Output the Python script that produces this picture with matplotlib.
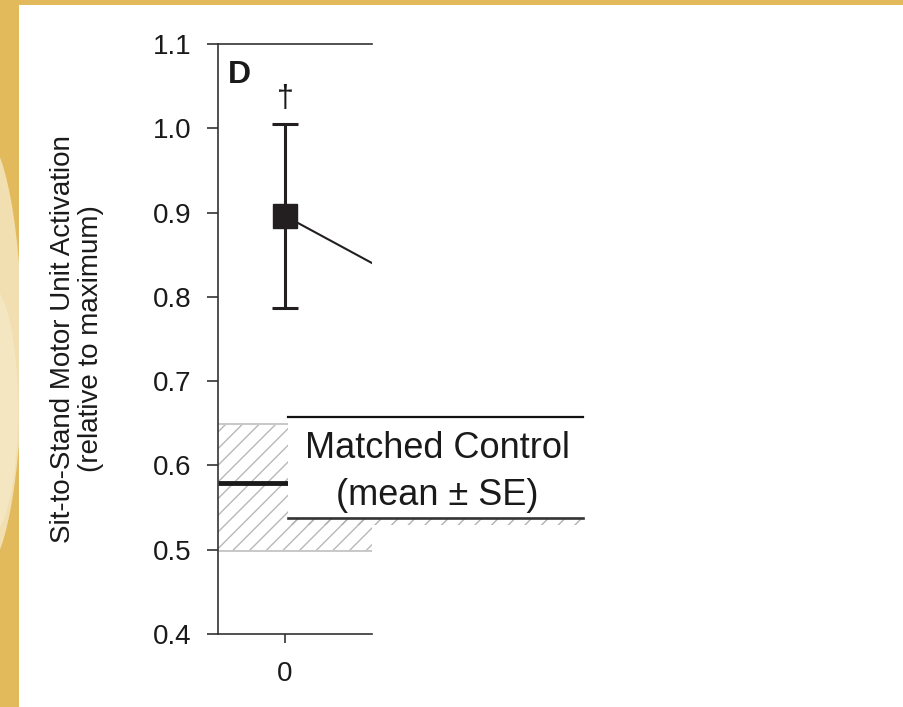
import matplotlib
matplotlib.use("Agg")
import matplotlib.pyplot as plt
from matplotlib.patches import Rectangle, Ellipse
from matplotlib.transforms import blended_transform_factory

plt.rcParams['font.family'] = ['Liberation Sans', 'DejaVu Sans']
plt.rcParams['hatch.linewidth'] = 1.0

# ---- data ----
x_vals = [0, 1]
act_mean = [0.896, 0.810]
act_se = [0.109, 0.0]
control_mean = 0.579
control_lo = 0.499
control_hi = 0.649
y_ticks = [0.4, 0.5, 0.6, 0.7, 0.8, 0.9, 1.0, 1.1]
y_tick_labels = ['0.4', '0.5', '0.6', '0.7', '0.8', '0.9', '1.0', '1.1']
x_ticks = [0]
x_tick_labels = ['0']
panel_label = 'D'
sig_mark = '\u2020'
ylabel_text = 'Sit-to-Stand Motor Unit Activation\n(relative to maximum)'
legend_lines = ['Matched Control', '(mean \u00b1 SE)']

W, H = 904, 707
fig = plt.figure(figsize=(W / 100, H / 100), dpi=100)
fig.patch.set_facecolor('#E2BA5C')

# background decoration (gold frame with lighter swirl)
fig.patches.append(Ellipse((-0.02, 0.50), 0.09, 0.62, transform=fig.transFigure,
                           facecolor='#F1DFB2', edgecolor='none', zorder=-3))
fig.patches.append(Ellipse((-0.01, 0.42), 0.06, 0.35, transform=fig.transFigure,
                           facecolor='#F5E6C2', edgecolor='none', zorder=-2))
fig.patches.append(Rectangle((19 / W, 0), 1, 1 - 5 / H, transform=fig.transFigure,
                             facecolor='white', edgecolor='none', zorder=-1))

ax = fig.add_axes([218 / W, 1 - 634 / H, 154 / W, 590 / H])
ax.set_facecolor('none')
ax.set_xlim(-0.5, 0.65)
ax.set_ylim(0.4, 1.1)

spine_col = '#333333'
for s in ['left', 'top', 'bottom']:
    ax.spines[s].set_color(spine_col)
    ax.spines[s].set_linewidth(1.2)
ax.spines['right'].set_visible(False)

ax.set_yticks(y_ticks)
ax.set_yticklabels(y_tick_labels)
ax.set_xticks(x_ticks)
ax.set_xticklabels(x_tick_labels)
ax.tick_params(axis='y', direction='out', length=8, width=1.2, color=spine_col,
               labelsize=20, pad=11, labelcolor='#1a1a1a')
ax.tick_params(axis='x', direction='out', length=6.5, width=1.2, color=spine_col,
               labelsize=20, pad=13, labelcolor='#1a1a1a')

# control band (hatched)
ax.fill_between([-0.5, 0.65], [control_lo, control_lo], [control_hi, control_hi],
                facecolor='none', edgecolor='#b8b8b8', hatch='//', linewidth=0, zorder=1)
ax.plot([-0.5, 0.65], [control_lo, control_lo], color='#c8c8c8', lw=1.4, zorder=1.5)
ax.plot([-0.5, 0.65], [control_hi, control_hi], color='#c8c8c8', lw=1.4, zorder=1.5)
ax.plot([-0.5, 0.65], [control_mean, control_mean], color='#1a1a1a', lw=3.5,
        solid_capstyle='butt', zorder=2)

# data
ax.plot(x_vals, act_mean, color='#231f20', lw=1.5, zorder=3)
ax.errorbar(x_vals[:1], act_mean[:1], yerr=act_se[:1], fmt='s', color='#231f20',
            ms=17, elinewidth=2.2, capsize=9.5, capthick=2.2, zorder=4)

# annotations
bt = blended_transform_factory(ax.transAxes, ax.transData)
ax.text(0.065, 1.0537, panel_label, transform=bt, fontsize=23, fontweight='bold',
        ha='left', va='baseline', color='#1a1a1a')
ax.text(0, act_mean[0] + act_se[0] + 0.030, sig_mark, fontsize=22, ha='center',
        va='center', color='#1a1a1a')

# legend-like box
bx0 = (288 - 218) / 154
bx1 = (583 - 218) / 154
b_top = 0.4 + (634 - 417) / 842.9
b_bot = 0.4 + (634 - 518) / 842.9
strip = 0.4 + (634 - 525) / 842.9
ax.add_patch(Rectangle((bx0, strip), bx1 - bx0, b_bot - strip, transform=bt,
                       facecolor='none', edgecolor='#b0b0b0', hatch='//',
                       linewidth=0, clip_on=False, zorder=4.5))
ax.add_patch(Rectangle((bx0, b_bot), bx1 - bx0, b_top - b_bot, transform=bt,
                       facecolor='white', edgecolor='none', clip_on=False, zorder=5))
ax.plot([bx0, bx1], [b_top, b_top], transform=bt, color='#111111', lw=1.6,
        clip_on=False, zorder=6)
ax.plot([bx0, bx1], [b_bot, b_bot], transform=bt, color='#333333', lw=1.9,
        clip_on=False, zorder=6)
tx = (437 - 218) / 154
ax.text(tx, 0.4 + (634 - 458) / 842.9, legend_lines[0], transform=bt, fontsize=26,
        ha='center', va='baseline', color='#1a1a1a', zorder=7, clip_on=False)
ax.text(tx, 0.4 + (634 - 505) / 842.9, legend_lines[1], transform=bt, fontsize=26,
        ha='center', va='baseline', color='#1a1a1a', zorder=7, clip_on=False)

ax.set_ylabel(ylabel_text, fontsize=20, linespacing=1.05, va='center', ha='center',
              color='#1a1a1a')
ax.yaxis.set_label_coords((77 - 218) / 154, 0.5)

fig.savefig('out.png', dpi=100, facecolor=fig.get_facecolor())
